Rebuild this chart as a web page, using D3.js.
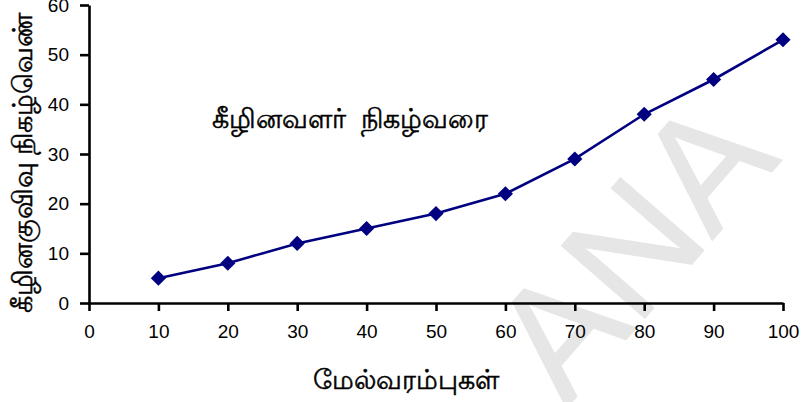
<!DOCTYPE html>
<html>
<head>
<meta charset="utf-8">
<script src="https://cdn.jsdelivr.net/npm/d3@7"></script>
<style>
  html, body { margin: 0; padding: 0; background: #fff; }
  svg { display: block; }
  text { font-family: "Liberation Sans", Arial, sans-serif; }
</style>
</head>
<body>
<div id="chart"></div>
<script>
// ---- data ----
const upperLimits = [10, 20, 30, 40, 50, 60, 70, 80, 90, 100];
const cumFreq     = [5, 8, 12, 15, 18, 22, 29, 38, 45, 53];
const xTicks = [0, 10, 20, 30, 40, 50, 60, 70, 80, 90, 100];
const yTicks = [0, 10, 20, 30, 40, 50, 60];
const chartTitle = "கீழினவளர்  நிகழ்வரை";
const xTitle = "மேல்வரம்புகள்";
const yTitle = "கீழினகுவிவு நிகழ்வெண்";
const watermark = "ANA";

const W = 811, H = 402;
const svg = d3.select("#chart").append("svg").attr("width", W).attr("height", H);

const x = d3.scaleLinear().domain([0, 100]).range([89, 783]);
const y = d3.scaleLinear().domain([0, 60]).range([303, 5]);

// watermark
svg.append("text")
  .attr("transform", "translate(782,160) rotate(-49)")
  .attr("text-anchor", "end")
  .attr("font-size", 160)
  .attr("fill", "#e6e6e6")
  .attr("stroke", "#e6e6e6")
  .attr("stroke-width", 1.5)
  .text(watermark);

// axes
const xAxis = svg.append("g").attr("transform", `translate(0,${y(0)})`)
  .call(d3.axisBottom(x).tickValues(xTicks).tickSize(8).tickPadding(14).tickSizeOuter(0));
const yAxis = svg.append("g").attr("transform", `translate(${x(0)},0)`)
  .call(d3.axisLeft(y).tickValues(yTicks).tickSize(9).tickPadding(11).tickSizeOuter(0));
[xAxis, yAxis].forEach(g => {
  g.select(".domain").attr("stroke", "#000").attr("stroke-width", 2.6);
  g.selectAll(".tick line").attr("stroke", "#000").attr("stroke-width", 2.6);
  g.selectAll(".tick text").attr("fill", "#000").attr("font-size", 19)
    .attr("font-family", "'Liberation Sans', Arial, sans-serif");
});

// line
const line = d3.line().x((d, i) => x(upperLimits[i])).y(d => y(d));
svg.append("path").datum(cumFreq)
  .attr("d", line)
  .attr("fill", "none")
  .attr("stroke", "#000080")
  .attr("stroke-width", 2.6);

// markers
const sym = d3.symbol().type(d3.symbolSquare).size(115);
svg.selectAll(".mk").data(cumFreq).enter().append("path")
  .attr("class", "mk")
  .attr("d", sym)
  .attr("transform", (d, i) => `translate(${x(upperLimits[i])},${y(d)}) rotate(45)`)
  .attr("fill", "#000080");

// titles
const tamilStyle = sel => sel.attr("font-size", 27).attr("fill", "#000")
  .attr("stroke", "#000").attr("stroke-width", 0.5)
  .style("white-space", "pre");

svg.append("text")
  .attr("x", 212).attr("y", 128)
  .call(tamilStyle)
  .text(chartTitle);

svg.append("text")
  .attr("x", 406).attr("y", 389)
  .attr("text-anchor", "middle")
  .call(tamilStyle)
  .text(xTitle);

svg.append("text")
  .attr("transform", "translate(32,163) rotate(-90)")
  .attr("text-anchor", "middle")
  .call(tamilStyle)
  .text(yTitle);
</script>
</body>
</html>
